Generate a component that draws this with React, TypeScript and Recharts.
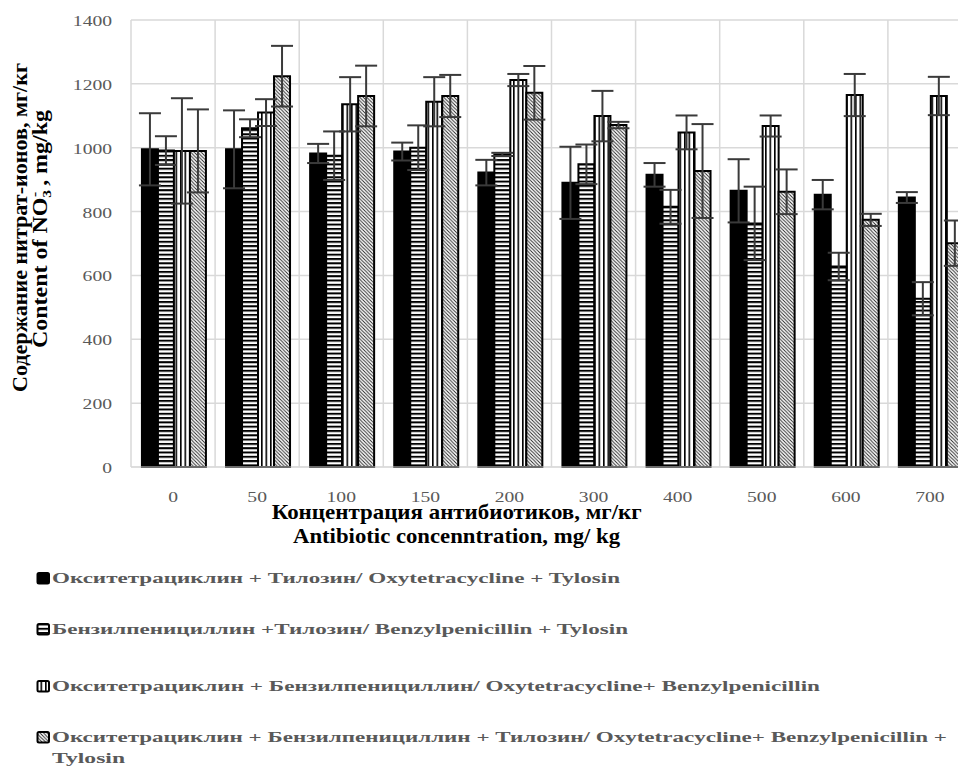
import React from 'react';
import { BarChart, Bar, XAxis, YAxis, CartesianGrid, ErrorBar } from 'recharts';

const concentrations = ['0', '50', '100', '150', '200', '300', '400', '500', '600', '700'];

// Окситетрациклин + Тилозин
const oxyTyl = [995, 995, 982, 988, 922, 890, 915, 865, 853, 844];
const oxyTylErr = [113, 122, 30, 28, 40, 113, 37, 99, 46, 17];
// Бензилпенициллин + Тилозин
const benzTyl = [991, 1061, 975, 1000, 979, 948, 815, 763, 628, 527];
const benzTylErr = [45, 28, 76, 70, 5, 62, 53, 115, 43, 52];
// Окситетрациклин + Бензилпенициллин
const oxyBenz = [990, 1110, 1136, 1144, 1212, 1099, 1048, 1068, 1165, 1162];
const oxyBenzErr = [165, 42, 85, 77, 19, 79, 53, 33, 66, 60];
// Окситетрациклин + Бензилпенициллин + Тилозин
const oxyBenzTyl = [990, 1224, 1162, 1162, 1172, 1071, 927, 862, 774, 701];
const oxyBenzTylErr = [130, 95, 95, 66, 84, 10, 147, 70, 19, 71];

const yTicks = [0, 200, 400, 600, 800, 1000, 1200, 1400];

const legendLabels = [
  'Окситетрациклин + Тилозин/ Oxytetracycline + Tylosin',
  'Бензилпенициллин +Тилозин/ Benzylpenicillin + Tylosin',
  'Окситетрациклин + Бензилпенициллин/ Oxytetracycline+ Benzylpenicillin',
  'Окситетрациклин + Бензилпенициллин + Тилозин/ Oxytetracycline+ Benzylpenicillin + Tylosin',
];
const legendFills = ['#000', 'url(#hStripe)', 'url(#vStripe)', 'url(#dStripe)'];

const yTitle = 'Содержание нитрат-ионов, мг/кг';
const xTitle = ['Концентрация антибиотиков, мг/кг', 'Antibiotic concenntration, mg/ kg'];

const data = concentrations.map((c, i) => ({
  conc: c,
  oxyTyl: oxyTyl[i],
  oxyTylErr: oxyTylErr[i],
  benzTyl: benzTyl[i],
  benzTylErr: benzTylErr[i],
  oxyBenz: oxyBenz[i],
  oxyBenzErr: oxyBenzErr[i],
  oxyBenzTyl: oxyBenzTyl[i],
  oxyBenzTylErr: oxyBenzTylErr[i],
}));

const serif = '"Liberation Serif", "Times New Roman", serif';
const grey = '#595959';

// legend rows: baseline and stretched width of each line (the last one wraps)
const legendRows = [
  { y: 583, widths: [568] },
  { y: 634, widths: [576] },
  { y: 691, widths: [768] },
  { y: 742, widths: [895, 73] },
];

const splitLast = (s: string) => {
  const k = s.lastIndexOf(' ');
  return [s.slice(0, k), s.slice(k + 1)];
};

const XTick = (props: any) => {
  const { x, y, payload } = props;
  return (
    <text transform={`translate(${x},${y + 35}) scale(1.4,1)`} textAnchor="middle"
      fontFamily={serif} fontSize={14} fill={grey}>
      {payload.value}
    </text>
  );
};

const YTick = (props: any) => {
  const { x, y, payload } = props;
  return (
    <text transform={`translate(${x},${y + 6}) scale(1.4,1)`} textAnchor="end"
      fontFamily={serif} fontSize={14} fill={grey}>
      {payload.value}
    </text>
  );
};

const errStyle = { width: 11, stroke: '#3a3a3a', strokeWidth: 2 };

export default function App() {
  return (
    <div style={{ position: 'absolute', left: 0, top: 0, width: 958, height: 778, overflow: 'hidden', background: '#fff' }}>
      <BarChart width={1000} height={540} data={data} barGap={0} barCategoryGap="13%"
        margin={{ top: 20, right: 28, left: 0, bottom: 0 }}>
        <defs>
          <pattern id="hStripe" width="4" height="4.3" patternUnits="userSpaceOnUse">
            <rect width="4" height="4.3" fill="#fff" />
            <rect width="4" height="2" fill="#000" />
          </pattern>
          <pattern id="vStripe" width="4.5" height="4" patternUnits="userSpaceOnUse">
            <rect width="4.5" height="4" fill="#fff" />
            <rect width="1.6" height="4" fill="#000" />
          </pattern>
          <pattern id="dStripe" width="3.5" height="3.5" patternUnits="userSpaceOnUse">
            <rect width="3.5" height="3.5" fill="#fff" />
            <path d="M-1,-1 L4.5,4.5 M2.5,-1 L4.5,1 M-1,2.5 L1,4.5" stroke="#222" strokeWidth="0.9" />
          </pattern>
        </defs>
        <CartesianGrid stroke="#d9d9d9" strokeWidth={1.5}
          verticalCoordinatesGenerator={({ offset }: any) =>
            Array.from({ length: concentrations.length + 1 }, (_, i) => offset.left + (i * offset.width) / concentrations.length)} />
        <XAxis dataKey="conc" height={73} tickSize={0} tickMargin={0} tickLine={false}
          axisLine={{ stroke: '#d9d9d9' }} tick={<XTick />} interval={0} />
        <YAxis width={131} domain={[0, 1400]} ticks={yTicks} tickSize={0} tickMargin={19}
          axisLine={false} tickLine={false} tick={<YTick />} interval={0} />
        <Bar dataKey="oxyTyl" fill="#000" stroke="#000" strokeWidth={2} isAnimationActive={false}>
          <ErrorBar dataKey="oxyTylErr" direction="y" {...errStyle} />
        </Bar>
        <Bar dataKey="benzTyl" fill="url(#hStripe)" stroke="#000" strokeWidth={2} isAnimationActive={false}>
          <ErrorBar dataKey="benzTylErr" direction="y" {...errStyle} />
        </Bar>
        <Bar dataKey="oxyBenz" fill="url(#vStripe)" stroke="#000" strokeWidth={2} isAnimationActive={false}>
          <ErrorBar dataKey="oxyBenzErr" direction="y" {...errStyle} />
        </Bar>
        <Bar dataKey="oxyBenzTyl" fill="url(#dStripe)" stroke="#000" strokeWidth={2} isAnimationActive={false}>
          <ErrorBar dataKey="oxyBenzTylErr" direction="y" {...errStyle} />
        </Bar>
      </BarChart>

      {/* titles and legend */}
      <svg width={958} height={778} style={{ position: 'absolute', left: 0, top: 0, pointerEvents: 'none' }}>
        <g fontFamily={serif} fontWeight="bold" fill="#000" fontSize={20}>
          <text transform="translate(27,227.5) rotate(-90)" textAnchor="middle"
            textLength={329} lengthAdjust="spacingAndGlyphs">{yTitle}</text>
          <text transform="translate(47,229) rotate(-90)" textAnchor="middle"
            textLength={238} lengthAdjust="spacingAndGlyphs">
            Content of NO<tspan fontSize={13} dy={4}>3</tspan>
            <tspan fontSize={13} dx={-6} dy={-12}>-</tspan>
            <tspan dy={8}> , mg/kg</tspan>
          </text>
        </g>
        <g fontFamily={serif} fontWeight="bold" fill="#000" fontSize={21} textAnchor="middle">
          <text x={456.7} y={518.5} textLength={370} lengthAdjust="spacingAndGlyphs">{xTitle[0]}</text>
          <text x={456.5} y={543.3} textLength={327} lengthAdjust="spacingAndGlyphs">{xTitle[1]}</text>
        </g>
        <g fontFamily={serif} fontWeight="bold" fill={grey} fontSize={15}>
          {legendLabels.map((label, i) => {
            const row = legendRows[i];
            const lines = row.widths.length > 1 ? splitLast(label) : [label];
            return (
              <g key={i}>
                <rect x={37.5} y={row.y - 10} width={11.5} height={10.5} rx={1.5}
                  fill={legendFills[i]} stroke="#000" strokeWidth={2} />
                {lines.map((ln, j) => (
                  <text key={j} x={52} y={row.y + j * 21} textLength={row.widths[j]}
                    lengthAdjust="spacingAndGlyphs">{ln}</text>
                ))}
              </g>
            );
          })}
        </g>
      </svg>
    </div>
  );
}
